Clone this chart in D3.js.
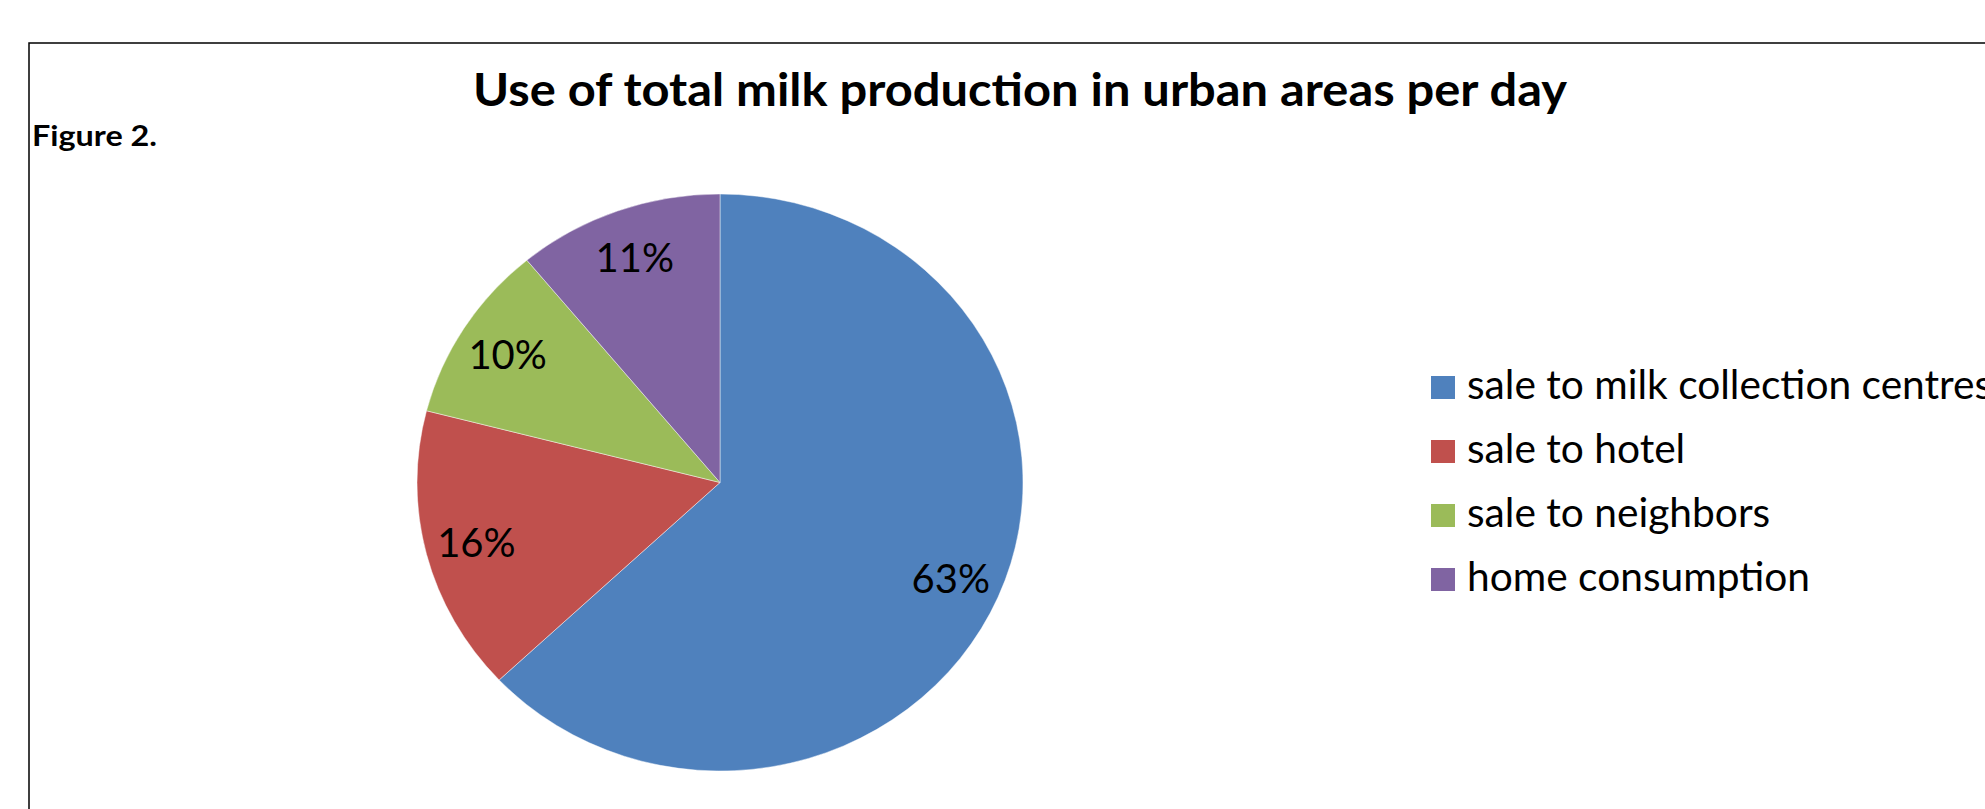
<!DOCTYPE html>
<html>
<head>
<meta charset="utf-8">
<script src="https://cdn.jsdelivr.net/npm/d3@7"></script>
<style>
  html, body { margin: 0; padding: 0; background: #fff; }
  svg { display: block; }
</style>
</head>
<body>
<svg id="chart" width="1985" height="809"></svg>
<script>
// ---- data ----
const categories = ["sale to milk collection centres", "sale to hotel", "sale to neighbors", "home consumption"];
const values = [63, 16, 10, 11];
const colors = ["#4F81BD", "#C0504D", "#9BBB59", "#8064A2"];
const titleText = "Use of total milk production in urban areas per day";
const figureLabel = "Figure 2.";

const svg = d3.select("#chart");

// chart frame (extends beyond the visible page on right / bottom)
svg.append("rect")
  .attr("x", 29).attr("y", 43)
  .attr("width", 2200).attr("height", 1000)
  .attr("fill", "none").attr("stroke", "#000").attr("stroke-width", 1.5);

// title
svg.append("text")
  .attr("x", 473).attr("y", 106)
  .attr("font-family", "Lato, 'Open Sans', sans-serif")
  .attr("font-weight", "bold")
  .attr("font-size", 45)
  .attr("textLength", 1094)
  .attr("lengthAdjust", "spacingAndGlyphs")
  .attr("fill", "#000")
  .text(titleText);

svg.append("text")
  .attr("x", 32).attr("y", 146)
  .attr("font-family", "Lato, 'Open Sans', sans-serif")
  .attr("font-weight", "bold")
  .attr("font-size", 29)
  .attr("textLength", 125)
  .attr("lengthAdjust", "spacingAndGlyphs")
  .attr("fill", "#000")
  .text(figureLabel);

// pie
const cx = 720, cy = 482.5, ry = 288.5, rx = 303;
const sx = rx / ry;
const data = categories.map((c, i) => ({ name: c, value: values[i], color: colors[i] }));
const pie = d3.pie().value(d => d.value).sort(null);
const arcs = pie(data);
const arc = d3.arc().innerRadius(0).outerRadius(ry);
const labelArc = d3.arc().innerRadius(ry * 0.83).outerRadius(ry * 0.83);

const g = svg.append("g").attr("transform", `translate(${cx},${cy}) scale(${sx},1)`);
g.selectAll("path.slice")
  .data(arcs)
  .join("path")
  .attr("class", "slice")
  .attr("d", arc)
  .attr("fill", d => d.data.color)
  .attr("stroke", "rgba(255,255,255,0.55)")
  .attr("stroke-width", 0.8);

const total = d3.sum(values);
svg.selectAll("text.pct")
  .data(arcs)
  .join("text")
  .attr("class", "pct")
  .attr("x", d => cx + labelArc.centroid(d)[0] * sx)
  .attr("y", d => cy + labelArc.centroid(d)[1])
  .attr("dy", "0.38em")
  .attr("text-anchor", "middle")
  .attr("font-family", "Lato, 'Open Sans', sans-serif")
  .attr("font-size", 40)
  .attr("fill", "#000")
  .text(d => Math.round(d.data.value / total * 100) + "%");

// legend
const legendX = 1431, legendY0 = 399, legendStep = 64;
const leg = svg.append("g");
const items = leg.selectAll("g.item")
  .data(data)
  .join("g")
  .attr("class", "item")
  .attr("transform", (d, i) => `translate(${legendX},${legendY0 + i * legendStep})`);
items.append("rect")
  .attr("x", 0).attr("y", -23)
  .attr("width", 24).attr("height", 23)
  .attr("fill", d => d.color);
const legTexts = items.append("text")
  .attr("x", 36).attr("y", 0)
  .attr("font-family", "Lato, 'Open Sans', sans-serif")
  .attr("font-size", 41)
  .attr("fill", "#000")
  .text(d => d.name);
// horizontal fit: "home consumption" spans ~343px in the reference
const refNode = legTexts.nodes()[3];
const factor = 343 / refNode.getComputedTextLength();
legTexts.each(function () {
  const w = this.getComputedTextLength();
  d3.select(this).attr("textLength", w * factor).attr("lengthAdjust", "spacingAndGlyphs");
});
</script>
</body>
</html>
